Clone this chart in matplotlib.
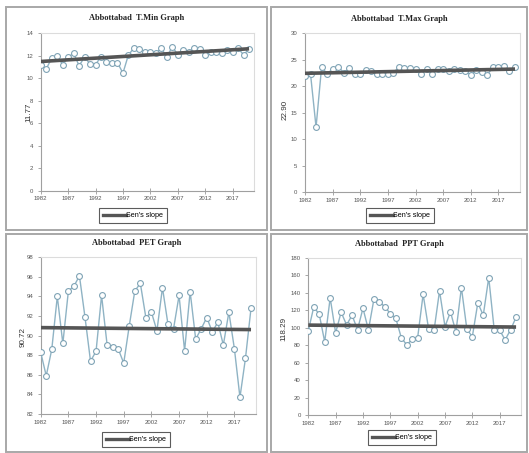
import matplotlib
matplotlib.use("Agg")
import matplotlib.pyplot as plt
from matplotlib.lines import Line2D
from matplotlib.patches import Rectangle
import numpy as np

years = list(range(1982, 2021))
x_ticks = [1982, 1987, 1992, 1997, 2002, 2007, 2012, 2017]

tmin = [11.18, 10.8, 11.76, 12.0, 11.18, 11.85, 12.2, 11.1, 11.85, 11.26,
        11.2, 11.9, 11.4, 11.3, 11.36, 10.44, 12.06, 12.65, 12.6, 12.35,
        12.3, 12.2, 12.65, 11.85, 12.8, 12.06, 12.5, 12.35, 12.65, 12.56,
        12.06, 12.3, 12.35, 12.26, 12.5, 12.35, 12.65, 12.06, 12.6]
tmax = [21.95, 22.3, 12.3, 23.6, 22.4, 23.25, 23.7, 22.6, 23.4, 22.3,
        22.3, 23.05, 22.85, 22.4, 22.4, 22.4, 22.5, 23.7, 23.4, 23.4,
        23.25, 22.3, 23.25, 22.3, 23.2, 23.25, 22.9, 23.2, 23.05, 22.85,
        22.2, 23.05, 22.7, 22.2, 23.6, 23.6, 23.9, 22.9, 23.6]
pet = [88.3, 85.9, 88.6, 94.0, 89.2, 94.55, 95.05, 96.1, 91.9, 87.4,
       88.4, 94.1, 89.05, 88.85, 88.65, 87.2, 91.0, 94.55, 95.35, 91.85,
       92.4, 90.5, 94.9, 91.15, 90.7, 94.1, 88.45, 94.5, 89.65, 90.7,
       91.85, 90.4, 91.35, 89.05, 92.4, 88.65, 83.7, 87.7, 92.8]
ppt = [96.6, 124, 115.6, 84, 134.4, 94.3, 118, 103.4, 114.5, 98,
       122.5, 97.7, 132.8, 130.2, 124, 116.4, 111, 89, 80.5, 87,
       89, 138.5, 98.9, 97.3, 142.4, 101.5, 118.3, 95.4, 146.2, 98.5,
       90, 128.6, 114.5, 157.6, 98, 97.3, 86.3, 98, 112.2]

# Sen's slope trend line (value at first year, value at last year)
tmin_sen = [11.47, 12.60]
tmax_sen = [22.45, 23.25]
pet_sen = [90.82, 90.62]
ppt_sen = [103.2, 101.0]

titles = ["Abbottabad  T.Min Graph", "Abbottabad  T.Max Graph",
          "Abbottabad  PET Graph", "Abbottabad  PPT Graph"]
ylabels = ["11.77", "22.90", "90.72", "118.29"]
yticks = [list(range(0, 15, 2)), list(range(0, 31, 5)),
          list(range(82, 99, 2)), list(range(0, 181, 20))]
legend_label = "Sen's slope"

W, H = 529, 453
fig = plt.figure(figsize=(W / 100, H / 100), dpi=100)
fig.patch.set_facecolor("white")


def fx(px):
    return px / W


def fy(py):
    return 1 - py / H


def box(l, t, r, b):
    return [fx(l), fy(b), fx(r) - fx(l), fy(t) - fy(b)]


# panel frames (pixel coords: left, top, right, bottom)
frames = [(6, 7, 267, 230), (271, 7, 527, 230), (6, 234, 267, 452), (271, 234, 527, 452)]
for (l, t, r, b) in frames:
    fig.patches.append(Rectangle((fx(l), fy(b)), fx(r) - fx(l), fy(t) - fy(b),
                                 transform=fig.transFigure, fill=False,
                                 edgecolor="#a8a8a8", linewidth=1.4))

panels = [
    dict(data=tmin, sen=tmin_sen, plot=(40.7, 33, 254, 190.7), title_y=18,
         leg=(133, 215.5), ylab=(29, 112)),
    dict(data=tmax, sen=tmax_sen, plot=(305, 33.3, 520, 192.3), title_y=19,
         leg=(400, 215.5), ylab=(285, 110)),
    dict(data=pet, sen=pet_sen, plot=(40.7, 257.3, 256, 414), title_y=243,
         leg=(136, 439.5), ylab=(23, 337)),
    dict(data=ppt, sen=ppt_sen, plot=(308.3, 258, 521, 415.3), title_y=244,
         leg=(402, 437.5), ylab=(284, 329)),
]

for i, p in enumerate(panels):
    l, t, r, b = p["plot"]
    ax = fig.add_axes(box(l, t, r, b))
    ax.plot(years, p["data"], color="#8fb3c4", linewidth=1.0, marker="o",
            markersize=4.2, markerfacecolor="white", markeredgecolor="#7fa3b5",
            markeredgewidth=0.8, zorder=3)
    ax.plot([years[0], years[-1]], p["sen"], color="#555555", linewidth=2.6,
            solid_capstyle="butt", zorder=4)
    ax.set_xlim(1982, 2020.9)
    ax.set_ylim(yticks[i][0], yticks[i][-1])
    ax.set_yticks(yticks[i])
    ax.set_xticks(x_ticks)
    ax.tick_params(axis="both", labelsize=4.3, labelcolor="#555555",
                   color="#999999", width=0.6)
    ax.tick_params(axis="y", direction="out", length=2.5, pad=3)
    ax.tick_params(axis="x", direction="inout", length=4, pad=2)
    for s in ["left", "bottom"]:
        ax.spines[s].set_color("#a0a0a0")
        ax.spines[s].set_linewidth(0.8)
    for s in ["top", "right"]:
        ax.spines[s].set_color("#dcdcdc")
        ax.spines[s].set_linewidth(0.8)
    ax.set_facecolor("white")
    for lab in ax.get_yticklabels() + ax.get_xticklabels():
        lab.set_family("Liberation Sans")
    # title
    cx = (frames[i][0] + frames[i][2]) / 2
    fig.text(fx(cx), fy(p["title_y"]), titles[i], ha="center", va="center",
             fontsize=6.0, fontweight="bold", family="Liberation Serif",
             color="#222222")
    # y label
    fig.text(fx(p["ylab"][0]), fy(p["ylab"][1]), ylabels[i], ha="center",
             va="center", rotation=90, fontsize=5.8, family="Liberation Sans",
             color="#333333")
    # legend
    h = Line2D([0], [0], color="#555555", linewidth=2.4)
    leg = fig.legend([h], [legend_label], loc="center",
                     bbox_to_anchor=(fx(p["leg"][0]), fy(p["leg"][1])),
                     bbox_transform=fig.transFigure, frameon=True,
                     fancybox=False, edgecolor="#333333",
                     handlelength=3.2, handletextpad=0.1, borderpad=0.5,
                     prop={"family": "Liberation Sans", "size": 5.2})
    leg.get_frame().set_linewidth(0.8)

fig.savefig("out.png", dpi=100, facecolor="white")
